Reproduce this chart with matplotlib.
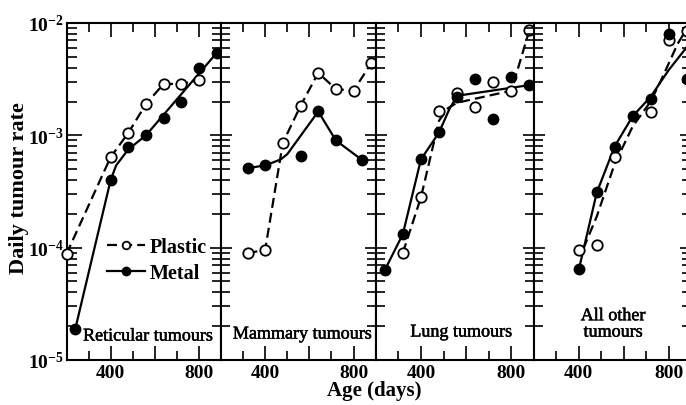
import numpy as np
import matplotlib
matplotlib.use('Agg')
import matplotlib.pyplot as plt
import matplotlib.patheffects as pe
from matplotlib.lines import Line2D
from matplotlib.ticker import FixedLocator, LogLocator, NullFormatter, FuncFormatter

plt.rcParams['font.family'] = ['Liberation Serif', 'DejaVu Serif']
plt.rcParams['mathtext.fontset'] = 'custom'
plt.rcParams['mathtext.rm'] = 'Liberation Serif'
plt.rcParams['mathtext.bf'] = 'Liberation Serif:bold'

# --- data (age in days, daily tumour rate) ---
panel_names = ['Reticular tumours', 'Mammary tumours', 'Lung tumours', 'All other\ntumours']

# Reticular
ret_plastic_age = [200, 400, 480, 560, 640, 720, 800]
ret_plastic_rate = [8.8e-5, 6.4e-4, 1.05e-3, 1.9e-3, 2.87e-3, 2.87e-3, 3.1e-3]
ret_metal_age = [240, 400, 480, 560, 640, 720, 800, 880]
ret_metal_rate = [1.9e-5, 4.0e-4, 7.9e-4, 1.0e-3, 1.44e-3, 1.97e-3, 4.0e-3, 5.4e-3]
ret_plastic_fit_age = [200, 400, 480, 560, 640, 720, 800]
ret_plastic_fit_rate = [8.8e-5, 6.4e-4, 1.05e-3, 1.9e-3, 2.87e-3, 2.87e-3, 3.1e-3]
ret_metal_fit_age = [240, 400, 425, 480, 560, 880]
ret_metal_fit_rate = [1.9e-5, 4.0e-4, 5.4e-4, 7.5e-4, 1.0e-3, 5.4e-3]

# Mammary
mam_plastic_age = [320, 400, 480, 560, 640, 720, 800, 880]
mam_plastic_rate = [8.9e-5, 9.6e-5, 8.6e-4, 1.83e-3, 3.6e-3, 2.58e-3, 2.5e-3, 4.4e-3]
mam_metal_age = [320, 400, 560, 640, 720, 840]
mam_metal_rate = [5.1e-4, 5.4e-4, 6.5e-4, 1.63e-3, 9.0e-4, 6.0e-4]
mam_plastic_fit_age = mam_plastic_age
mam_plastic_fit_rate = mam_plastic_rate
mam_metal_fit_age = [320, 400, 470, 500, 640, 720, 840]
mam_metal_fit_rate = [5.1e-4, 5.4e-4, 6.1e-4, 6.8e-4, 1.63e-3, 9.0e-4, 6.0e-4]

# Lung
lung_plastic_age = [320, 400, 480, 560, 640, 720, 800, 880]
lung_plastic_rate = [9.0e-5, 2.8e-4, 1.65e-3, 2.4e-3, 1.8e-3, 3.0e-3, 2.5e-3, 8.7e-3]
lung_metal_age = [240, 320, 400, 480, 560, 640, 720, 800, 880]
lung_metal_rate = [6.3e-5, 1.32e-4, 6.1e-4, 1.06e-3, 2.2e-3, 3.2e-3, 1.4e-3, 3.3e-3, 2.8e-3]
lung_plastic_fit_age = [320, 400, 480, 520, 560, 800, 880]
lung_plastic_fit_rate = [9.0e-5, 2.8e-4, 1.35e-3, 1.75e-3, 1.95e-3, 2.5e-3, 8.7e-3]
lung_metal_fit_age = [240, 320, 400, 480, 525, 560, 880]
lung_metal_fit_rate = [6.3e-5, 1.32e-4, 6.1e-4, 1.06e-3, 1.7e-3, 2.25e-3, 2.8e-3]

# All other
oth_plastic_age = [400, 480, 560, 720, 800, 880]
oth_plastic_rate = [9.5e-5, 1.05e-4, 6.4e-4, 1.6e-3, 7.1e-3, 8.5e-3]
oth_metal_age = [400, 480, 560, 640, 720, 800, 880]
oth_metal_rate = [6.4e-5, 3.1e-4, 7.9e-4, 1.5e-3, 2.1e-3, 8.0e-3, 3.2e-3]
oth_plastic_fit_age = [420, 480, 560, 640, 720, 770, 840, 890]
oth_plastic_fit_rate = [9.8e-5, 1.9e-4, 5.6e-4, 1.2e-3, 2.0e-3, 3.2e-3, 6.5e-3, 9.5e-3]
oth_metal_fit_age = [400, 480, 560, 640, 720, 800, 900]
oth_metal_fit_rate = [6.4e-5, 3.1e-4, 8.0e-4, 1.48e-3, 2.2e-3, 3.8e-3, 6.8e-3]

plastic_pts = [(ret_plastic_age, ret_plastic_rate), (mam_plastic_age, mam_plastic_rate),
               (lung_plastic_age, lung_plastic_rate), (oth_plastic_age, oth_plastic_rate)]
metal_pts = [(ret_metal_age, ret_metal_rate), (mam_metal_age, mam_metal_rate),
             (lung_metal_age, lung_metal_rate), (oth_metal_age, oth_metal_rate)]
plastic_fit = [(ret_plastic_fit_age, ret_plastic_fit_rate), (mam_plastic_fit_age, mam_plastic_fit_rate),
               (lung_plastic_fit_age, lung_plastic_fit_rate), (oth_plastic_fit_age, oth_plastic_fit_rate)]
metal_fit = [(ret_metal_fit_age, ret_metal_fit_rate), (mam_metal_fit_age, mam_metal_fit_rate),
             (lung_metal_fit_age, lung_metal_fit_rate), (oth_metal_fit_age, oth_metal_fit_rate)]

# --- layout (pixels) ---
W, H = 686, 406
panel_left = [66.5, 221, 375.7, 534]
panel_width = [154.5, 154.7, 158.3, 157]
ax_bottom, ax_top = 361, 24
label_pos = [(0.107, 0.071, 'left'), (0.524, 0.077, 'center'), (0.539, 0.083, 'center'), (0.503, 0.107, 'center')]

dash = (0, (4.5, 2.3))
fig = plt.figure(figsize=(W / 100, H / 100), dpi=100)

axes = []
for i in range(4):
    ax = fig.add_axes([panel_left[i] / W, (H - ax_bottom) / H, panel_width[i] / W, (ax_bottom - ax_top) / H])
    ax.set_yscale('log')
    ax.set_ylim(1e-5, 1e-2)
    ax.set_xlim(200, 900)

    # fitted curves
    ax.plot(*plastic_fit[i], color='black', lw=1.6, ls=dash, zorder=3)
    ax.plot(*metal_fit[i], color='black', lw=1.6, zorder=3)
    # observed points
    ax.plot(*plastic_pts[i], 'o', ms=7.5, mfc='white', mec='black', mew=1.3, zorder=4, clip_on=False)
    ax.plot(*metal_pts[i], 'o', ms=7.5, color='black', zorder=5, clip_on=False)

    # x ticks
    ax.xaxis.set_major_locator(FixedLocator([400, 600, 800]))
    ax.xaxis.set_minor_locator(FixedLocator([300, 500, 700]))
    ax.xaxis.set_major_formatter(FuncFormatter(lambda v, p: '' if v == 600 else '%d' % v))
    ax.tick_params(axis='x', which='both', direction='in', top=True, bottom=True, width=1.2)
    ax.tick_params(axis='x', which='major', length=10, labelsize=14, pad=3)
    ax.tick_params(axis='x', which='minor', length=6.5)
    for lab in ax.get_xticklabels():
        lab.set_fontweight('bold')

    # y ticks
    ax.yaxis.set_major_locator(LogLocator(base=10))
    ax.yaxis.set_minor_locator(LogLocator(base=10, subs=np.arange(2, 10)))
    ax.yaxis.set_minor_formatter(NullFormatter())
    if i == 0:
        ax.yaxis.set_major_formatter(FuncFormatter(lambda v, p: r'$\mathbf{10^{%d}}$' % round(np.log10(v))))
        ax.tick_params(axis='y', which='both', direction='in', width=1.2, labelsize=14, pad=2)
        ax.tick_params(axis='y', which='major', length=11)
        ax.tick_params(axis='y', which='minor', length=7)
    else:
        ax.yaxis.set_major_formatter(NullFormatter())
        ax.tick_params(axis='y', which='both', direction='inout', width=1.2, right=(i == 3))
        ax.tick_params(axis='y', which='major', length=16)
        ax.tick_params(axis='y', which='minor', length=13)

    for sp in ax.spines.values():
        sp.set_linewidth(1.5)

    lx, ly, ha = label_pos[i]
    ax.text(lx, ly, panel_names[i], transform=ax.transAxes, fontsize=13, ha=ha, va='center',
            multialignment='center', linespacing=0.95, zorder=6,
            path_effects=[pe.withStroke(linewidth=0.35, foreground='black')])
    axes.append(ax)

# legend in the first panel
handles = [Line2D([], [], color='black', lw=1.6, ls=dash, marker='o', ms=5.5, mfc='white', mec='black', mew=1.3),
           Line2D([], [], color='black', lw=1.6, marker='o', ms=6)]
axes[0].legend(handles, ['Plastic', 'Metal'], loc='center left', bbox_to_anchor=(0.26, 0.297),
               frameon=False, prop={'size': 14.5, 'weight': 'bold'}, handlelength=1.9,
               handletextpad=0.25, labelspacing=0.3, borderpad=0, borderaxespad=0)

fig.text(19 / W, 1 - 188 / H, 'Daily tumour rate', rotation=90, ha='center', va='center',
         fontsize=16, fontweight='bold')
fig.text(374 / W, 1 - 391 / H, 'Age (days)', ha='center', va='center', fontsize=15, fontweight='bold')

fig.savefig('out.png', dpi=100)
